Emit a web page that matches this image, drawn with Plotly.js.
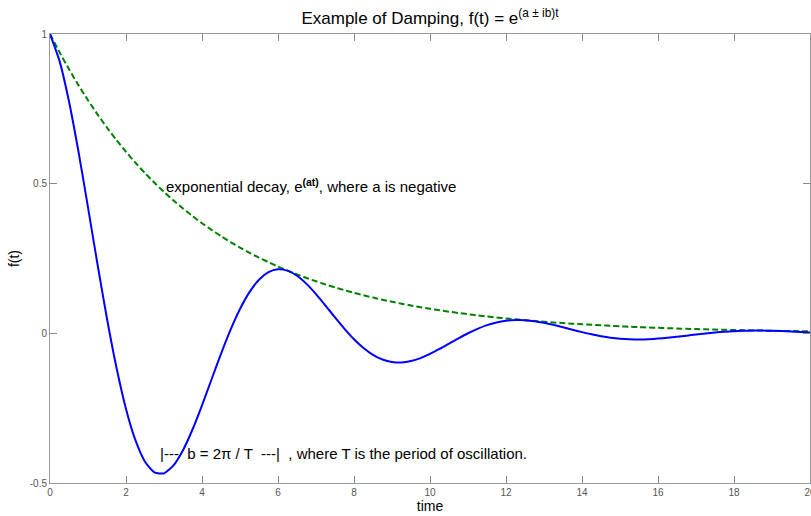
<!DOCTYPE html>
<html>
<head>
<meta charset="utf-8">
<script src="https://cdn.plot.ly/plotly-3.0.1.min.js"></script>
<style>html,body{margin:0;padding:0;background:#fff;}#chart{width:811px;height:516px;}</style>
</head>
<body>
<div id="chart"></div>
<script>
// time samples
const time = [0,0.25,0.5,0.75,1,1.25,1.5,1.75,2,2.25,2.5,2.75,3,3.25,3.5,3.75,4,4.25,4.5,4.75,5,5.25,5.5,5.75,6,6.25,6.5,6.75,7,7.25,7.5,7.75,8,8.25,8.5,8.75,9,9.25,9.5,9.75,10,10.25,10.5,10.75,11,11.25,11.5,11.75,12,12.25,12.5,12.75,13,13.25,13.5,13.75,14,14.25,14.5,14.75,15,15.25,15.5,15.75,16,16.25,16.5,16.75,17,17.25,17.5,17.75,18,18.25,18.5,18.75,19,19.25,19.5,19.75,20];
// damped oscillation (blue solid)
const damped = [1,0.9102,0.7745,0.6066,0.4208,0.2307,0.0486,-0.1150,-0.2524,-0.3579,-0.4288,-0.4647,-0.4677,-0.4411,-0.3904,-0.3213,-0.2405,-0.1542,-0.0684,0.0115,0.0813,0.1377,0.1792,0.2045,0.2142,0.2095,0.1923,0.1652,0.1310,0.0927,0.0532,0.0150,-0.0197,-0.0490,-0.0719,-0.0876,-0.0960,-0.0975,-0.0927,-0.0828,-0.0689,-0.0523,-0.0344,-0.0165,0.0003,0.0151,0.0273,0.0363,0.0420,0.0445,0.0438,0.0406,0.0352,0.0282,0.0203,0.0121,0.0041,-0.0032,-0.0094,-0.0144,-0.0179,-0.0198,-0.0204,-0.0195,-0.0175,-0.0147,-0.0114,-0.0077,-0.0039,-0.0004,0.0028,0.0054,0.0073,0.0086,0.0092,0.0092,0.0086,0.0075,0.0060,0.0045,0.0027];
// exponential decay envelope (green dashed)
const decay = [1,0.9394,0.8825,0.8290,0.7788,0.7316,0.6873,0.6456,0.6065,0.5698,0.5353,0.5028,0.4724,0.4437,0.4169,0.3916,0.3679,0.3456,0.3247,0.3050,0.2865,0.2691,0.2528,0.2375,0.2231,0.2096,0.1969,0.1850,0.1738,0.1633,0.1534,0.1441,0.1353,0.1271,0.1194,0.1122,0.1054,0.0990,0.0930,0.0874,0.0821,0.0771,0.0724,0.0680,0.0639,0.0600,0.0564,0.0530,0.0498,0.0468,0.0439,0.0413,0.0388,0.0364,0.0342,0.0321,0.0302,0.0284,0.0266,0.0250,0.0235,0.0221,0.0208,0.0195,0.0183,0.0172,0.0162,0.0152,0.0143,0.0134,0.0126,0.0118,0.0111,0.0104,0.0098,0.0092,0.0087,0.0081,0.0076,0.0072,0.0067];
const xTicks = [0,2,4,6,8,10,12,14,16,18,20];
const yTicks = [-0.5,0,0.5,1];
const yTickText = ['-0.5','0','0.5','1'];

const traces = [
  {x: time, y: decay, mode: 'lines', line: {color: '#008000', width: 2, dash: '6px,3px', shape: 'spline', smoothing: 0.6}, hoverinfo: 'skip'},
  {x: time, y: damped, mode: 'lines', line: {color: '#0000ff', width: 2, shape: 'spline', smoothing: 0.6}, hoverinfo: 'skip'}
];

const axisCommon = {
  showgrid: false, zeroline: false, showline: true, linecolor: '#999', linewidth: 1,
  mirror: 'ticks', ticks: 'inside', ticklen: 7, tickcolor: '#888', tickwidth: 1,
  ticklabeloverflow: 'allow',
  tickfont: {family: 'Arial, Liberation Sans, sans-serif', size: 10, color: '#555'}
};

const layout = {
  width: 811, height: 516,
  margin: {l: 50, r: 1, t: 34, b: 33},
  paper_bgcolor: '#fff', plot_bgcolor: '#fff',
  showlegend: false,
  font: {family: 'Arial, Liberation Sans, sans-serif', color: '#000'},
  title: {text: 'Example of Damping, f(t) = e<sup>(a ± ib)t</sup>', font: {size: 17, color: '#000'},
          x: 0.5, xanchor: 'center', y: 0.965, yanchor: 'middle', xref: 'paper', yref: 'container'},
  xaxis: Object.assign({}, axisCommon, {range: [0, 20], tickvals: xTicks, ticktext: xTicks.map(String),
    title: {text: 'time', font: {size: 14, color: '#000'}, standoff: 4}}),
  yaxis: Object.assign({}, axisCommon, {range: [-0.5, 1], tickvals: yTicks, ticktext: yTickText,
    title: {text: 'f(t)', font: {size: 14, color: '#000'}, standoff: 6}}),
  annotations: [
    {x: 3.0, y: 0.493, xref: 'x', yref: 'y', xanchor: 'left', yanchor: 'middle', showarrow: false,
     text: 'exponential decay, e<sup><b>(at)</b></sup>, where a is negative', font: {size: 15, color: '#000'}},
    {x: 2.84, y: -0.40, xref: 'x', yref: 'y', xanchor: 'left', yanchor: 'middle', showarrow: false,
     text: '|---  b = 2π / T  ---|  , where T is the period of oscillation.', font: {size: 15, color: '#000'}}
  ]
};

Plotly.newPlot('chart', traces, layout, {staticPlot: true, displayModeBar: false});
</script>
</body>
</html>
